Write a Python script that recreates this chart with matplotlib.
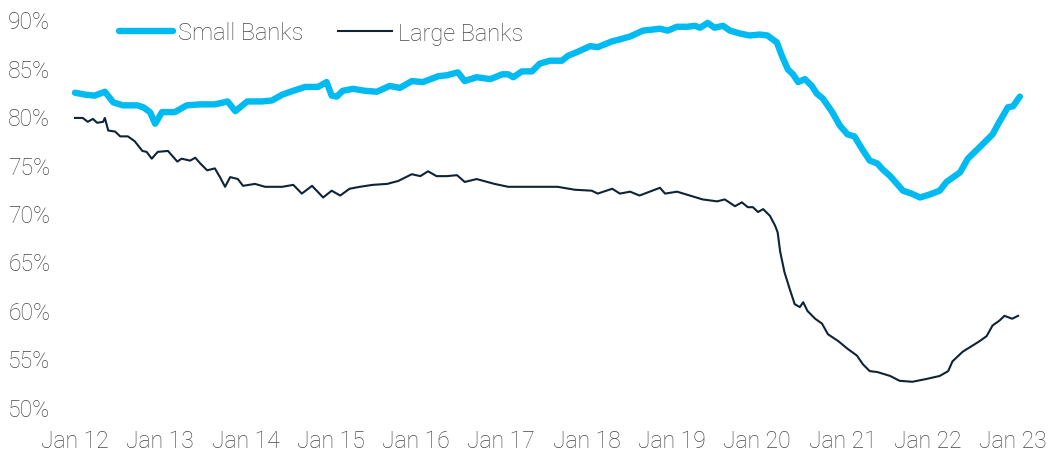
import matplotlib
matplotlib.use("Agg")
import matplotlib.pyplot as plt
from matplotlib.ticker import FixedLocator, FuncFormatter

# ---- data (x in decimal years) ----
small_years = [2012.00, 2012.12, 2012.23, 2012.35, 2012.45, 2012.56, 2012.73, 2012.80, 2012.88, 2012.94,
               2013.02, 2013.17, 2013.31, 2013.47, 2013.64, 2013.79, 2013.88, 2014.02, 2014.19, 2014.31,
               2014.43, 2014.56, 2014.70, 2014.85, 2014.95, 2015.01, 2015.07, 2015.14, 2015.26, 2015.40,
               2015.54, 2015.69, 2015.81, 2015.95, 2016.08, 2016.26, 2016.36, 2016.49, 2016.57, 2016.71,
               2016.87, 2017.01, 2017.08, 2017.14, 2017.24, 2017.36, 2017.45, 2017.57, 2017.71, 2017.78,
               2017.89, 2018.04, 2018.13, 2018.30, 2018.39, 2018.51, 2018.66, 2018.86, 2018.95, 2019.06,
               2019.18, 2019.27, 2019.33, 2019.42, 2019.50, 2019.60, 2019.68, 2019.80, 2019.91, 2020.03,
               2020.12, 2020.23, 2020.29, 2020.36, 2020.42, 2020.48, 2020.56, 2020.64, 2020.70, 2020.77,
               2020.88, 2020.97, 2021.06, 2021.14, 2021.23, 2021.32, 2021.41, 2021.47, 2021.56, 2021.71,
               2021.81, 2021.91, 2022.02, 2022.14, 2022.22, 2022.38, 2022.47, 2022.61, 2022.76, 2022.84,
               2022.94, 2023.00, 2023.08]
small_banks = [82.4, 82.2, 82.1, 82.5, 81.4, 81.1, 81.1, 80.9, 80.4, 79.2,
               80.4, 80.4, 81.1, 81.2, 81.2, 81.5, 80.5, 81.5, 81.5, 81.6,
               82.2, 82.6, 83.0, 83.0, 83.5, 82.1, 82.0, 82.6, 82.8, 82.6,
               82.5, 83.1, 82.9, 83.6, 83.5, 84.1, 84.2, 84.5, 83.6, 84.0,
               83.8, 84.3, 84.3, 84.0, 84.6, 84.6, 85.4, 85.7, 85.7, 86.2,
               86.6, 87.2, 87.1, 87.7, 87.9, 88.2, 88.8, 89.0, 88.8, 89.2,
               89.2, 89.3, 89.1, 89.6, 89.1, 89.3, 88.8, 88.5, 88.3, 88.4,
               88.3, 87.6, 86.2, 84.8, 84.3, 83.5, 83.8, 83.1, 82.3, 81.8,
               80.4, 79.0, 78.1, 77.9, 76.6, 75.4, 75.1, 74.5, 73.8, 72.3,
               72.0, 71.6, 71.9, 72.3, 73.2, 74.2, 75.6, 76.8, 78.1, 79.4,
               80.9, 81.0, 82.0]

large_years = [2012.00, 2012.09, 2012.15, 2012.21, 2012.26, 2012.33, 2012.35, 2012.39, 2012.47, 2012.53,
               2012.62, 2012.70, 2012.79, 2012.84, 2012.90, 2012.97, 2013.09, 2013.20, 2013.25, 2013.35,
               2013.41, 2013.47, 2013.55, 2013.64, 2013.70, 2013.76, 2013.82, 2013.91, 2013.97, 2014.11,
               2014.23, 2014.43, 2014.56, 2014.66, 2014.78, 2014.91, 2015.01, 2015.11, 2015.22, 2015.34,
               2015.49, 2015.66, 2015.79, 2015.95, 2016.05, 2016.14, 2016.24, 2016.36, 2016.48, 2016.57,
               2016.71, 2016.92, 2017.08, 2017.28, 2017.48, 2017.66, 2017.86, 2018.06, 2018.13, 2018.30,
               2018.39, 2018.51, 2018.62, 2018.74, 2018.86, 2018.92, 2019.06, 2019.21, 2019.36, 2019.53,
               2019.62, 2019.74, 2019.82, 2019.89, 2019.95, 2020.01, 2020.07, 2020.15, 2020.21, 2020.24,
               2020.27, 2020.32, 2020.38, 2020.44, 2020.50, 2020.54, 2020.59, 2020.68, 2020.76, 2020.83,
               2020.95, 2021.06, 2021.17, 2021.24, 2021.32, 2021.41, 2021.56, 2021.67, 2021.82, 2021.99,
               2022.14, 2022.24, 2022.29, 2022.41, 2022.52, 2022.61, 2022.69, 2022.76, 2022.84, 2022.90,
               2022.99, 2023.06]
large_banks = [79.8, 79.8, 79.4, 79.7, 79.3, 79.4, 79.8, 78.5, 78.4, 77.9,
               77.9, 77.4, 76.4, 76.3, 75.6, 76.3, 76.4, 75.3, 75.6, 75.4,
               75.7, 75.1, 74.4, 74.6, 73.7, 72.7, 73.7, 73.5, 72.8, 73.0,
               72.7, 72.7, 72.9, 72.0, 72.8, 71.6, 72.3, 71.8, 72.5, 72.7,
               72.9, 73.0, 73.3, 74.0, 73.8, 74.3, 73.8, 73.8, 73.9, 73.2,
               73.5, 73.0, 72.7, 72.7, 72.7, 72.7, 72.4, 72.3, 72.0, 72.5,
               72.0, 72.2, 71.8, 72.2, 72.6, 72.0, 72.2, 71.8, 71.4, 71.2,
               71.4, 70.7, 71.1, 70.6, 70.6, 70.1, 70.4, 69.7, 68.7, 68.0,
               66.0, 63.9, 62.2, 60.6, 60.3, 60.8, 59.9, 59.1, 58.6, 57.5,
               56.8, 56.0, 55.3, 54.4, 53.7, 53.6, 53.2, 52.7, 52.6, 52.9,
               53.2, 53.7, 54.7, 55.7, 56.3, 56.8, 57.3, 58.4, 58.9, 59.4,
               59.1, 59.4]

x_tick_years = list(range(2012, 2024))
x_tick_labels = ["Jan 12", "Jan 13", "Jan 14", "Jan 15", "Jan 16", "Jan 17",
                 "Jan 18", "Jan 19", "Jan 20", "Jan 21", "Jan 22", "Jan 23"]
y_ticks = [50, 55, 60, 65, 70, 75, 80, 85, 90]

# ---- style ----
plt.rcParams['font.family'] = ['Roboto', 'DejaVu Sans']
text_color = "#474747"
small_color = "#00BAF2"
large_color = "#0E2436"

fig = plt.figure(figsize=(10.61, 4.52), dpi=100)
ax = fig.add_axes([60 / 1061, 1 - 413 / 452, 980 / 1061, 398 / 452])

ax.plot(small_years, small_banks, color=small_color, lw=4.6, solid_capstyle='round',
        solid_joinstyle='round', label="Small Banks")
ax.plot(large_years, large_banks, color=large_color, lw=1.5, label="Large Banks")

ax.set_xlim(2012 - 15 / 85.27, 2023 + 27 / 85.27)
ax.set_ylim(50 - 5 / 9.7, 90 + 5 / 9.7)

ax.xaxis.set_major_locator(FixedLocator(x_tick_years))
ax.set_xticklabels(x_tick_labels)
ax.yaxis.set_major_locator(FixedLocator(y_ticks))
ax.yaxis.set_major_formatter(FuncFormatter(lambda v, p: f"{v:.0f}%"))

for s in ax.spines.values():
    s.set_visible(False)
ax.tick_params(axis='both', length=0, labelsize=16.5, labelcolor=text_color)
ax.tick_params(axis='y', pad=7)
ax.tick_params(axis='x', pad=12)
for lab in ax.get_xticklabels() + ax.get_yticklabels():
    lab.set_fontweight('light')

leg = ax.legend(loc='center left', bbox_to_anchor=(119 / 1061, 1 - 34 / 452),
                bbox_transform=fig.transFigure, ncol=2, frameon=False,
                fontsize=17, handlelength=2.3, handletextpad=0.22,
                columnspacing=1.45, borderpad=0, borderaxespad=0)
for t in leg.get_texts():
    t.set_color(text_color)
    t.set_fontweight('light')

fig.savefig("out.png", dpi=100)
